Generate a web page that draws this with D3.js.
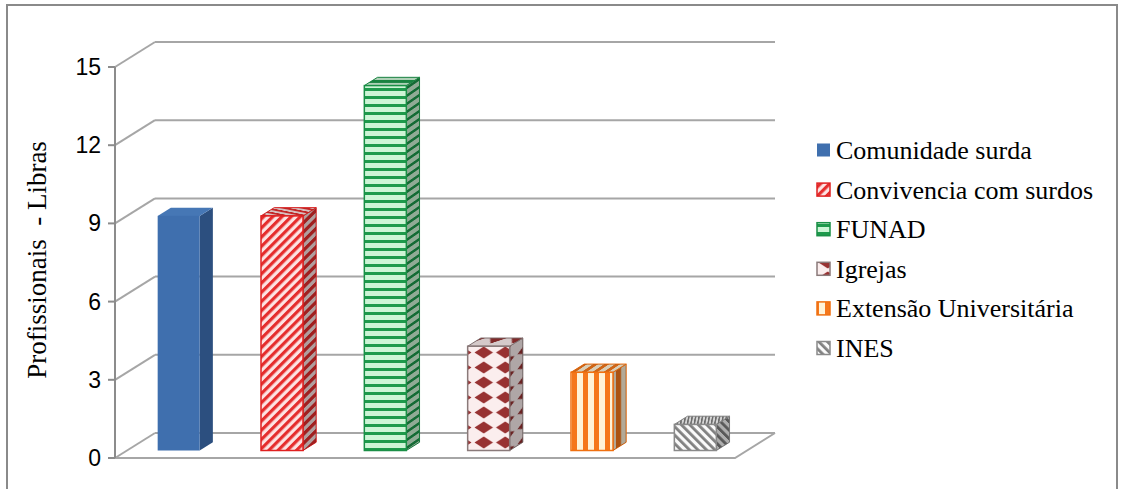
<!DOCTYPE html>
<html>
<head>
<meta charset="utf-8">
<script src="https://cdn.jsdelivr.net/npm/d3@7"></script>
<style>
  body { margin: 0; background: #fff; }
  svg { display: block; }
</style>
</head>
<body>
<script>
const w = 1124;
const h = 489;

// data
const categories = ['Comunidade surda', 'Convivencia com surdos', 'FUNAD', 'Igrejas', 'Extensão Universitária', 'INES'];
const values = [9, 9, 14, 4, 3, 1];
const yTicks = [0, 3, 6, 9, 12, 15];
const yTitle = 'Profissionais  - Libras';

// plot geometry (front plane + depth vector)
const x0 = 115, x1 = 735, yBot = 458, yTop = 67;
const dep = [40, -25];
const f0 = 0.3, f1 = 0.63;   // bar front/back depth fraction
const serif = "'Liberation Serif', 'Times New Roman', serif";

const svg = d3.select('body').append('svg').attr('width', w).attr('height', h);
const defs = svg.append('defs');

const x = d3.scaleBand().domain(categories).range([x0, x1]).paddingInner(0).paddingOuter(0);
const y = d3.scaleLinear().domain([0, 15]).range([yBot, yTop]);

// border
svg.append('rect').attr('x', 7).attr('y', 5).attr('width', 1110).attr('height', 500)
  .attr('fill', 'none').attr('stroke', '#8a8a8a').attr('stroke-width', 2);

// patterns
function stripes(id, period, a, b, wa, tr) {
  const p = defs.append('pattern').attr('id', id).attr('patternUnits', 'userSpaceOnUse')
    .attr('width', period).attr('height', period);
  if (tr) p.attr('patternTransform', tr);
  p.append('rect').attr('width', period).attr('height', period).attr('fill', b);
  p.append('rect').attr('width', wa).attr('height', period).attr('fill', a);
}
function hstripes(id, period, a, b, wa, tr) {
  const p = defs.append('pattern').attr('id', id).attr('patternUnits', 'userSpaceOnUse')
    .attr('width', period).attr('height', period);
  if (tr) p.attr('patternTransform', tr);
  p.append('rect').attr('width', period).attr('height', period).attr('fill', b);
  p.append('rect').attr('width', period).attr('height', wa).attr('fill', a);
}
function diamonds(id, tr) {
  const tw = 21.5, th = 15;
  const p = defs.append('pattern').attr('id', id).attr('patternUnits', 'userSpaceOnUse')
    .attr('width', tw).attr('height', th);
  if (tr) p.attr('patternTransform', tr);
  p.append('rect').attr('width', tw).attr('height', th).attr('fill', '#fbeeee');
  p.append('path').attr('d', `M${tw/2},1.5 L${tw-1.5},${th/2} L${tw/2},${th-1.5} L1.5,${th/2}Z`).attr('fill', '#983232');
}
const skewSide = 'skewY(-34.7)';
const skewTop = 'skewX(-56)';
const pats = [
  null,
  (id, t) => stripes(id, 6.5, '#e52d2d', '#fde3e3', 3.2, 'rotate(45)' + (t ? ' ' + t : '')),
  (id, t) => hstripes(id, 8, '#1e9a4c', '#cdf5d6', 3, t),
  (id, t) => diamonds(id, t),
  (id, t) => stripes(id, 11, '#f5771b', '#fff3d8', 5, t),
  (id, t) => stripes(id, 6, '#808080', '#fafafa', 2.8, 'rotate(-45)' + (t ? ' ' + t : ''))
];
pats.forEach((fn, i) => {
  if (!fn) return;
  fn('pf' + i, null);
  fn('ps' + i, skewSide);
  fn('pt' + i, skewTop);
});
const solid = ['#3f6fae', '#2c4f7f', '#4677b5'];
const strokes = ['none', '#e02020', '#1a8f46', '#8a7a7a', '#f07010', '#8a8a8a'];

// gridlines: back wall + side wall
const grid = svg.append('g');
yTicks.forEach(t => {
  const yy = y(t);
  grid.append('line').attr('x1', x0).attr('y1', yy).attr('x2', x0 + dep[0]).attr('y2', yy + dep[1])
    .attr('stroke', '#a6a6a6').attr('stroke-width', 2);
  grid.append('line').attr('x1', x0 + dep[0]).attr('y1', yy + dep[1]).attr('x2', x1 + dep[0]).attr('y2', yy + dep[1])
    .attr('stroke', '#a6a6a6').attr('stroke-width', 2);
});
// floor front edges
grid.append('path').attr('d', `M${x0},${yBot} L${x1},${yBot} L${x1 + dep[0]},${yBot + dep[1]}`)
  .attr('fill', 'none').attr('stroke', '#a6a6a6').attr('stroke-width', 2);

// y axis
const ax = svg.append('g');
ax.append('line').attr('x1', x0).attr('y1', y(15)).attr('x2', x0).attr('y2', yBot)
  .attr('stroke', '#8c8c8c').attr('stroke-width', 2);
ax.selectAll('.tk').data(yTicks).enter().append('line')
  .attr('x1', x0 - 7).attr('x2', x0).attr('y1', d => y(d)).attr('y2', d => y(d))
  .attr('stroke', '#8c8c8c').attr('stroke-width', 2);
ax.selectAll('.tl').data(yTicks).enter().append('text')
  .attr('x', 101).attr('y', d => y(d) + 8)
  .attr('text-anchor', 'end')
  .style('font-family', "'Liberation Sans', Arial, sans-serif").style('font-size', '23px')
  .attr('fill', '#000').text(d => d);

svg.append('text')
  .attr('transform', 'translate(46,260) rotate(-90)')
  .attr('text-anchor', 'middle')
  .style('font-family', serif).style('font-size', '27px')
  .style('white-space', 'pre')
  .text(yTitle);

// bars
const bw = 42;
const fx = f0 * dep[0], fy = f0 * dep[1];
const bdx = (f1 - f0) * dep[0], bdy = (f1 - f0) * dep[1];
const bars = svg.append('g');
categories.forEach((c, i) => {
  const v = values[i];
  const lx = x(c) + (x.bandwidth() - bw) / 2 + fx;
  const rx = lx + bw;
  const by = yBot + fy;
  const ty = y(v) + fy;
  const g = bars.append('g');
  const fFront = i === 0 ? solid[0] : `url(#pf${i})`;
  const fSide = i === 0 ? solid[1] : `url(#ps${i})`;
  const fTop = i === 0 ? solid[2] : `url(#pt${i})`;
  const st = strokes[i];
  // side
  g.append('path').attr('d', `M${rx},${ty} L${rx + bdx},${ty + bdy} L${rx + bdx},${by + bdy} L${rx},${by}Z`)
    .attr('fill', fSide).attr('stroke', st).attr('stroke-width', 1);
  if (i > 0) g.append('path').attr('d', `M${rx},${ty} L${rx + bdx},${ty + bdy} L${rx + bdx},${by + bdy} L${rx},${by}Z`)
    .attr('fill', '#000').attr('opacity', 0.3);
  // top
  g.append('path').attr('d', `M${lx},${ty} L${lx + bdx},${ty + bdy} L${rx + bdx},${ty + bdy} L${rx},${ty}Z`)
    .attr('fill', fTop).attr('stroke', st).attr('stroke-width', 1);
  if (i > 0) g.append('path').attr('d', `M${lx},${ty} L${lx + bdx},${ty + bdy} L${rx + bdx},${ty + bdy} L${rx},${ty}Z`)
    .attr('fill', '#000').attr('opacity', 0.15);
  // front
  g.append('rect').attr('x', lx).attr('y', ty).attr('width', bw).attr('height', by - ty)
    .attr('fill', fFront).attr('stroke', st).attr('stroke-width', i === 0 ? 0 : 1.5);
});

// legend
const lg = svg.append('g');
categories.forEach((c, i) => {
  const cy = 150 + i * 39.6;
  lg.append('rect').attr('x', 817).attr('y', cy - 6.5).attr('width', 13).attr('height', 13)
    .attr('fill', i === 0 ? solid[0] : `url(#pf${i})`)
    .attr('stroke', i === 0 ? 'none' : strokes[i]).attr('stroke-width', 1.5);
  lg.append('text').attr('x', 836).attr('y', cy + 9)
    .style('font-family', serif).style('font-size', '26px')
    .text(c);
});
</script>
</body>
</html>
